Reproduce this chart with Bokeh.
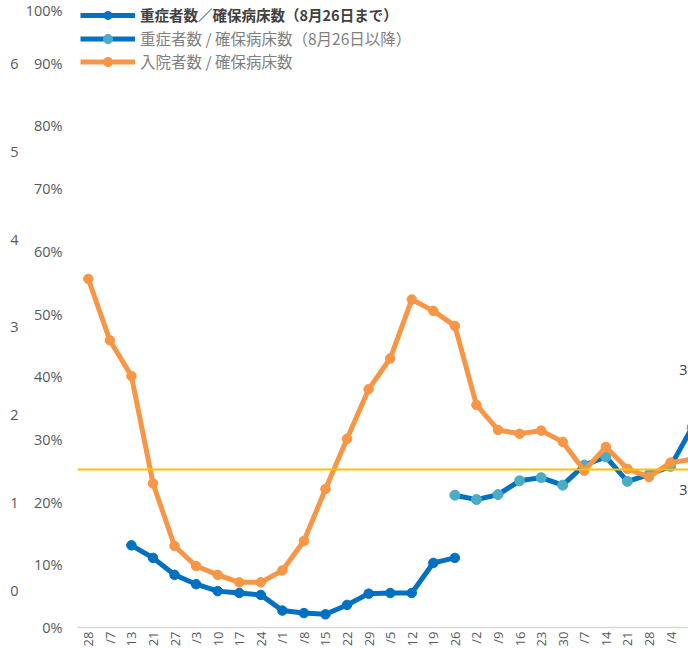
import math
import numpy as np
from bokeh.plotting import figure
from bokeh.models import (Range1d, LinearAxis, FixedTicker, Span, Legend, LegendItem,
                          ColumnDataSource, NumeralTickFormatter)
from bokeh.embed import file_html
from bokeh.resources import INLINE
from bokeh.core.properties import value

nan = float("nan")

# x tick labels (visible parts of the weekly date labels)
tick_labels = ["28", "/7", "13", "21", "27", "/3", "10", "17", "24", "/1", "/8", "15", "22", "29",
               "/5", "12", "19", "26", "/2", "/9", "16", "23", "30", "/7", "14", "21", "28", "/4"]

# 入院者数 / 確保病床数 (29 points, last one lies past the visible edge)
hosp_rate = [0.556, 0.458, 0.401, 0.230, 0.130, 0.098, 0.084, 0.072, 0.072, 0.091, 0.138, 0.221,
             0.301, 0.380, 0.429, 0.523, 0.505, 0.481, 0.355, 0.315, 0.309, 0.314, 0.296, 0.250,
             0.288, 0.253, 0.240, 0.263, 0.268]

# 重症者数／確保病床数（8月26日まで）
severe_before = [nan, nan, 0.131, 0.111, 0.084, 0.069, 0.058, 0.055, 0.052, 0.027, 0.023, 0.021,
                 0.036, 0.054, 0.055, 0.055, 0.103, 0.111, nan, nan, nan, nan, nan, nan,
                 nan, nan, nan, nan, nan]

# 重症者数 / 確保病床数（8月26日以降）
severe_after = [nan, nan, nan, nan, nan, nan, nan, nan, nan, nan, nan, nan,
                nan, nan, nan, nan, nan, 0.211, 0.204, 0.212, 0.234, 0.239, 0.227, 0.259,
                0.272, 0.233, 0.244, 0.257, 0.319]

# horizontal reference line
threshold = 0.252

# axis ticks
count_ticks = [0, 1, 2, 3, 4, 5, 6]
pct_ticks = [0, 0.1, 0.2, 0.3, 0.4, 0.5, 0.6, 0.7, 0.8, 0.9, 1.0]

# partially visible data labels at the right edge
edge_label_text = ["3", "3"]
edge_label_y = [0.41, 0.22]

x = list(range(len(hosp_rate)))
src = ColumnDataSource(dict(x=x, hosp=hosp_rate, before=severe_before, after=severe_after))

DARK_BLUE = "#0070C0"
LIGHT_BLUE = "#4BACC6"
ORANGE = "#F79646"
YELLOW = "#FFC000"
TICK_COLOR = "#595959"
FONT = "Open Sans"
CJK = "Noto Sans CJK JP"

MARGIN_L = 7
W, H = 688 - MARGIN_L, 649
BORDER_B = 22
frame_h = H - BORDER_B
frame_w = 612          # frame spans x = 76 .. 688
step = 21.6            # px per category

p = figure(width=W, height=H, output_backend="svg", toolbar_location=None,
           margin=(0, 0, 0, MARGIN_L),
           x_range=Range1d(-0.5, -0.5 + frame_w / step), y_range=Range1d(0, 1.0),
           min_border_left=40, min_border_right=0, min_border_top=0,
           min_border_bottom=BORDER_B)
p.outline_line_color = None
p.xgrid.visible = False
p.ygrid.visible = False

# x axis
xa = p.xaxis[0]
xa.ticker = FixedTicker(ticks=list(range(len(tick_labels))))
xa.major_label_overrides = {i: lab for i, lab in enumerate(tick_labels)}
xa.major_label_orientation = math.pi / 2
xa.axis_line_color = "#D9D9D9"
xa.axis_line_width = 1.5
xa.major_tick_line_color = None
xa.minor_tick_line_color = None
xa.major_tick_out = 0
xa.major_label_standoff = 4
xa.major_label_text_font = FONT
xa.major_label_text_font_size = "13px"
xa.major_label_text_color = TICK_COLOR

# percent axis
ya = p.yaxis[0]
ya.ticker = FixedTicker(ticks=pct_ticks)
ya.formatter = NumeralTickFormatter(format="0%")
ya.axis_line_color = None
ya.major_tick_line_color = None
ya.minor_tick_line_color = None
ya.major_tick_out = 0
ya.major_label_standoff = 15
ya.major_label_text_font = FONT
ya.major_label_text_font_size = "14.5px"
ya.major_label_text_color = TICK_COLOR

# outer count axis: 87.7 px per unit, 0 sits 37 px above the frame bottom
unit_px = 87.67
c0 = -37 / unit_px
p.extra_y_ranges = {"count": Range1d(c0, c0 + frame_h / unit_px)}
ax2 = LinearAxis(y_range_name="count", ticker=FixedTicker(ticks=count_ticks))
ax2.axis_line_color = None
ax2.major_tick_line_color = None
ax2.minor_tick_line_color = None
ax2.major_tick_out = 0
ax2.major_label_standoff = 4
ax2.major_label_text_font = FONT
ax2.major_label_text_font_size = "14.5px"
ax2.major_label_text_color = TICK_COLOR
p.add_layout(ax2, "left")

LW = 5
r_after_line = p.line("x", "after", source=src, line_color=DARK_BLUE, line_width=LW, line_join="round")
r_after_sc = p.scatter("x", "after", source=src, size=10, fill_color=LIGHT_BLUE, line_color=LIGHT_BLUE)
r_before_line = p.line("x", "before", source=src, line_color=DARK_BLUE, line_width=LW, line_join="round")
r_before_sc = p.scatter("x", "before", source=src, size=9.5, fill_color=DARK_BLUE, line_color=DARK_BLUE)
r_hosp_line = p.line("x", "hosp", source=src, line_color=ORANGE, line_width=LW, line_join="round")
r_hosp_sc = p.scatter("x", "hosp", source=src, size=9.5, fill_color=ORANGE, line_color=ORANGE)

p.add_layout(Span(location=threshold, dimension="width", line_color=YELLOW, line_width=2))

lab_src = ColumnDataSource(dict(x=[len(hosp_rate) - 1] * len(edge_label_text), y=edge_label_y,
                                t=edge_label_text))
p.text("x", "y", text="t", source=lab_src, text_align="right", text_baseline="middle", x_offset=-4.5,
       text_font=value(FONT), text_font_size="14.5px", text_color="#404040")

leg1 = Legend(items=[LegendItem(label="重症者数／確保病床数（8月26日まで）",
                                renderers=[r_before_line, r_before_sc])],
              location=(3, frame_h - 25), glyph_width=55, glyph_height=20, label_height=20,
              label_standoff=5, padding=0, margin=0, spacing=0,
              border_line_color=None, background_fill_alpha=0,
              label_text_font=CJK, label_text_font_size="14.5px", label_text_font_style="bold",
              label_text_color="#404040")
leg2 = Legend(items=[LegendItem(label="重症者数 / 確保病床数（8月26日以降）",
                                renderers=[r_after_line, r_after_sc]),
                     LegendItem(label="入院者数 / 確保病床数",
                                renderers=[r_hosp_line, r_hosp_sc])],
              location=(3, frame_h - 72.6), glyph_width=55, glyph_height=23, label_height=23,
              label_standoff=5, padding=0, margin=0, spacing=0,
              border_line_color=None, background_fill_alpha=0,
              label_text_font=CJK, label_text_font_size="15.5px",
              label_text_color="#808080")
p.add_layout(leg1)
p.add_layout(leg2)

open("out.html", "w").write(file_html(p, INLINE))
